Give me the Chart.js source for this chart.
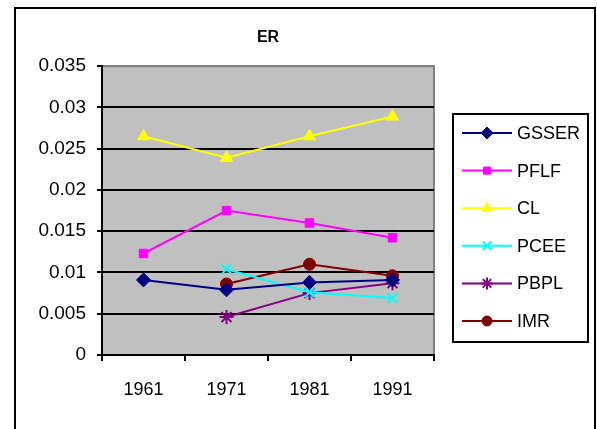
<!DOCTYPE html>
<html>
<head>
<meta charset="utf-8">
<script src="https://cdn.jsdelivr.net/npm/chart.js"></script>
<style>
  html, body { margin: 0; padding: 0; background: #fff; }
  #wrap { width: 597px; height: 429px; }
</style>
</head>
<body>
<div id="wrap"><canvas id="erChart" width="597" height="429"></canvas></div>
<script>
// Chart data
const years = ['1961', '1971', '1981', '1991'];
const gsser = [0.0091, 0.0079, 0.0088, 0.0091];
const pflf = [0.0123, 0.0175, 0.0160, 0.0142];
const cl = [0.0265, 0.0239, 0.0265, 0.0289];
const pcee = [null, 0.0104, 0.0076, 0.0069];
const pbpl = [null, 0.0046, 0.0075, 0.0087];
const imr = [null, 0.0086, 0.0110, 0.0096];
const yTickLabels = ['0', '0.005', '0.01', '0.015', '0.02', '0.025', '0.03', '0.035'];

const FONT = "'Liberation Sans', Arial, sans-serif";

function series(label, data, color, style, radius) {
  return {
    label: label,
    data: data,
    borderColor: color,
    backgroundColor: color,
    borderWidth: 2,
    pointStyle: style,
    pointRadius: radius,
    pointHoverRadius: radius,
    pointBorderColor: color,
    pointBackgroundColor: color,
    pointBorderWidth: (style === 'crossRot' || style === 'star') ? 2 : 1,
    tension: 0
  };
}

// Page frame, grey plot area and the boxed legend
const frame = {
  id: 'frame',
  beforeDraw(chart) {
    const { ctx, chartArea: a } = chart;
    ctx.save();
    ctx.fillStyle = '#fff';
    ctx.fillRect(0, 0, chart.width, chart.height);
    ctx.strokeStyle = '#000';
    ctx.lineWidth = 2;
    ctx.strokeRect(15, 8, 580, 440);
    ctx.fillStyle = '#C0C0C0';
    ctx.fillRect(a.left, a.top, a.right - a.left, a.bottom - a.top);
    ctx.strokeStyle = '#808080';
    ctx.beginPath();
    ctx.moveTo(a.left, a.top);
    ctx.lineTo(a.right, a.top);
    ctx.lineTo(a.right, a.bottom);
    ctx.stroke();
    ctx.restore();
  },
  afterDraw(chart) {
    const ctx = chart.ctx;
    ctx.save();
    ctx.strokeStyle = '#000';
    ctx.lineWidth = 2;
    ctx.strokeRect(453, 114, 135, 228);
    ctx.font = '18px ' + FONT;
    ctx.textBaseline = 'middle';
    ctx.textAlign = 'left';
    chart.data.datasets.forEach((ds, i) => {
      const y = 133 + i * 37.6;
      ctx.strokeStyle = ds.borderColor;
      ctx.lineWidth = 2;
      ctx.beginPath();
      ctx.moveTo(462, y);
      ctx.lineTo(512, y);
      ctx.stroke();
      ctx.fillStyle = ds.pointBackgroundColor;
      ctx.strokeStyle = ds.pointBorderColor;
      ctx.lineWidth = ds.pointBorderWidth;
      Chart.helpers.drawPoint(ctx, {
        pointStyle: ds.pointStyle,
        radius: Math.max(ds.pointRadius - 1, 3),
        rotation: 0,
        borderWidth: ds.pointBorderWidth
      }, 487, y);
      ctx.fillStyle = '#000';
      ctx.fillText(ds.label, 517, y + 1);
    });
    ctx.restore();
  }
};

new Chart(document.getElementById('erChart'), {
  type: 'line',
  data: {
    labels: years,
    datasets: [
      series('GSSER', gsser, '#000080', 'rectRot', 7),
      series('PFLF', pflf, '#FF00FF', 'rect', 6),
      series('CL', cl, '#FFFF00', 'triangle', 7),
      series('PCEE', pcee, '#00FFFF', 'crossRot', 7),
      series('PBPL', pbpl, '#800080', 'star', 7),
      series('IMR', imr, '#800000', 'circle', 6)
    ]
  },
  options: {
    responsive: false,
    animation: false,
    devicePixelRatio: 1,
    layout: { padding: { top: 0, right: 163, bottom: 0, left: 0 } },
    plugins: {
      legend: { display: false },
      tooltip: { enabled: false },
      title: {
        display: true,
        text: 'ER',
        fullSize: false,
        color: '#000',
        font: { family: FONT, size: 16, weight: 'bold' },
        padding: { top: 28, bottom: 19 }
      }
    },
    scales: {
      x: {
        offset: true,
        grid: { offset: true, drawOnChartArea: false, drawTicks: true, tickLength: 6, color: '#000', lineWidth: 2 },
        border: { color: '#000', width: 2 },
        ticks: { color: '#000', font: { family: FONT, size: 18 }, padding: 18, maxRotation: 0 },
        afterFit(s) { s.height = 74; }
      },
      y: {
        min: 0,
        max: 0.035,
        ticks: {
          stepSize: 0.005,
          color: '#000',
          font: { family: FONT, size: 19 },
          padding: 11,
          callback: (v, i) => yTickLabels[i]
        },
        grid: {
          color: (c) => (c.index === yTickLabels.length - 1 ? '#808080' : '#000'),
          tickColor: '#000',
          lineWidth: 2,
          tickLength: 5
        },
        border: { color: '#000', width: 2 },
        afterFit(s) { s.width = 102; }
      }
    }
  },
  plugins: [frame]
});
</script>
</body>
</html>
